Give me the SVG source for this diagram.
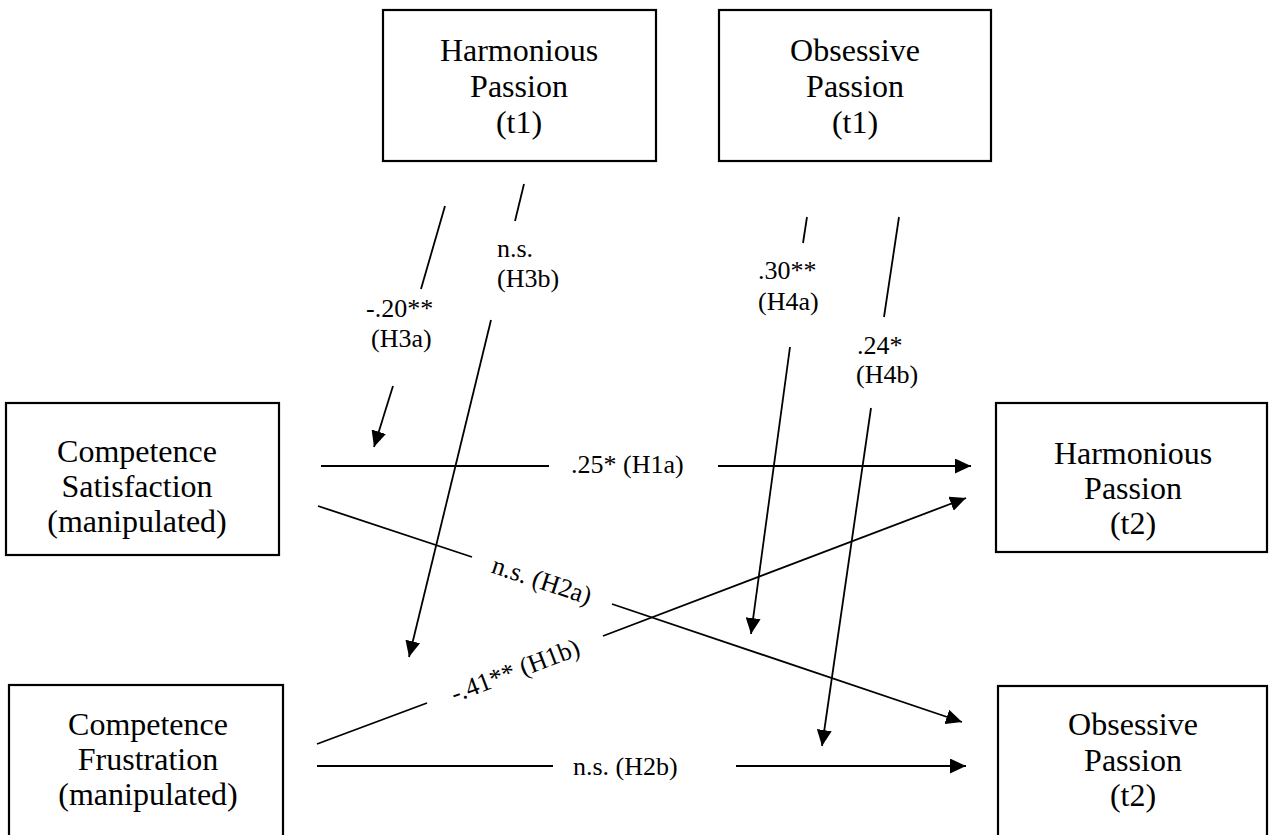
<svg xmlns="http://www.w3.org/2000/svg" width="1269" height="835" viewBox="0 0 1269 835">
<style>
.box{fill:#fff;stroke:#000;stroke-width:2.2}
.t{font-size:32px;fill:#000;text-anchor:middle}
.l{font-size:26px;fill:#000}
.c{fill:none;stroke:#000;stroke-width:1.8}
</style>
<defs>
<marker id="ah" markerUnits="userSpaceOnUse" markerWidth="16" markerHeight="15" refX="16" refY="7.5" orient="auto">
<path d="M0,0 L16,7.5 L0,15 z" fill="#000"/>
</marker>
</defs>
<rect width="1269" height="835" fill="#fff"/>
<g font-family="Liberation Serif, DejaVu Serif, Times New Roman, serif">
<g id="hp1">
<rect class="box" x="383" y="10" width="273" height="151"/>
<text class="t" x="519" y="61">Harmonious</text>
<text class="t" x="519" y="97">Passion</text>
<text class="t" x="519" y="133">(t1)</text>
</g>
<g id="op1">
<rect class="box" x="719" y="10" width="272" height="151"/>
<text class="t" x="855" y="61">Obsessive</text>
<text class="t" x="855" y="97">Passion</text>
<text class="t" x="855" y="133">(t1)</text>
</g>
<g id="cs">
<rect class="box" x="6" y="403" width="273" height="152"/>
<text class="t" x="137" y="462">Competence</text>
<text class="t" x="137" y="497">Satisfaction</text>
<text class="t" x="137" y="532">(manipulated)</text>
</g>
<g id="cf">
<rect class="box" x="9" y="685" width="274" height="160"/>
<text class="t" x="148" y="735">Competence</text>
<text class="t" x="148" y="770">Frustration</text>
<text class="t" x="148" y="805">(manipulated)</text>
</g>
<g id="hp2">
<rect class="box" x="996" y="403" width="271" height="149"/>
<text class="t" x="1133" y="464">Harmonious</text>
<text class="t" x="1133" y="499">Passion</text>
<text class="t" x="1133" y="534">(t2)</text>
</g>
<g id="op2">
<rect class="box" x="998" y="686" width="269" height="160"/>
<text class="t" x="1133" y="735">Obsessive</text>
<text class="t" x="1133" y="771">Passion</text>
<text class="t" x="1133" y="806">(t2)</text>
</g>
<g id="connectors">
<line class="c" x1="321" y1="466" x2="549" y2="466"/>
<line class="c" x1="718" y1="466" x2="971" y2="466" marker-end="url(#ah)"/>
<line class="c" x1="318" y1="506" x2="472" y2="557"/>
<line class="c" x1="612" y1="604" x2="962" y2="722" marker-end="url(#ah)"/>
<line class="c" x1="317" y1="744" x2="427" y2="703"/>
<line class="c" x1="603" y1="636" x2="966" y2="498" marker-end="url(#ah)"/>
<line class="c" x1="317" y1="766" x2="553" y2="766"/>
<line class="c" x1="736" y1="766" x2="966" y2="766" marker-end="url(#ah)"/>
<line class="c" x1="445" y1="206" x2="421" y2="289"/>
<line class="c" x1="393" y1="386" x2="374" y2="447" marker-end="url(#ah)"/>
<line class="c" x1="524" y1="184" x2="515" y2="221"/>
<line class="c" x1="491" y1="320" x2="409" y2="657" marker-end="url(#ah)"/>
<line class="c" x1="807" y1="217" x2="803" y2="243"/>
<line class="c" x1="790" y1="347" x2="751" y2="634" marker-end="url(#ah)"/>
<line class="c" x1="899" y1="217" x2="884" y2="317"/>
<line class="c" x1="871" y1="408" x2="822" y2="746" marker-end="url(#ah)"/>
<text class="l" x="571" y="473">.25* (H1a)</text>
<text class="l" x="542" y="589" text-anchor="middle" transform="rotate(18.3 542 580)">n.s. (H2a)</text>
<text class="l" x="515" y="679" text-anchor="middle" transform="rotate(-20.8 515 670)">-.41** (H1b)</text>
<text class="l" x="573" y="775">n.s. (H2b)</text>
<text class="l" x="366" y="317">-.20**</text>
<text class="l" x="371" y="347">(H3a)</text>
<text class="l" x="497" y="257">n.s.</text>
<text class="l" x="497" y="287">(H3b)</text>
<text class="l" x="758" y="279">.30**</text>
<text class="l" x="758" y="310">(H4a)</text>
<text class="l" x="857" y="354">.24*</text>
<text class="l" x="856" y="383">(H4b)</text>
</g>
</g>
</svg>
